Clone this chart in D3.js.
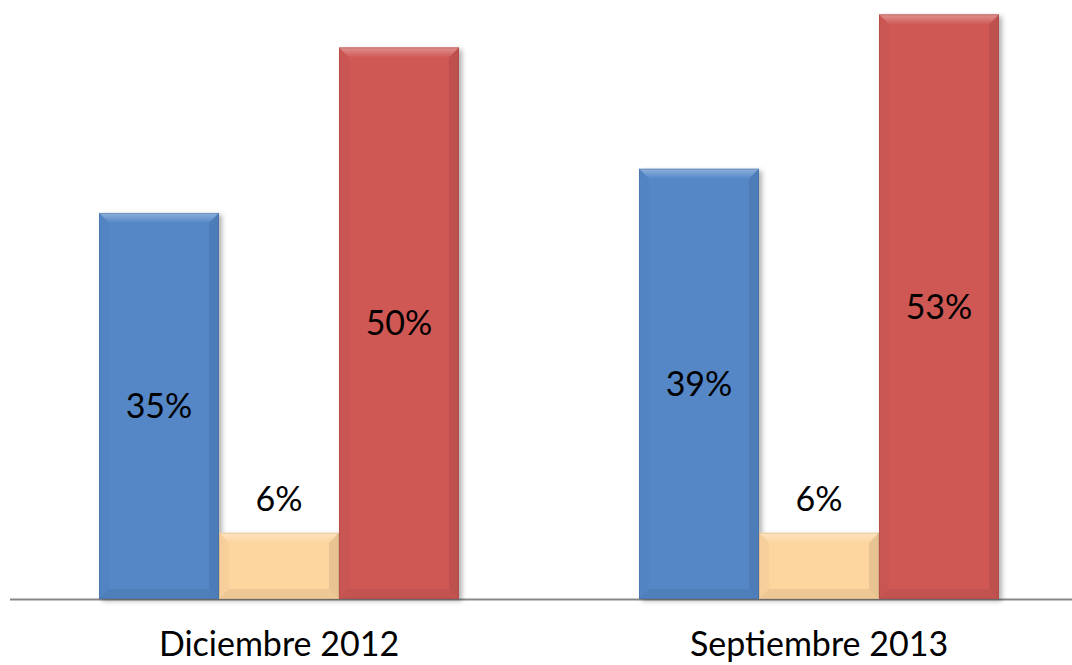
<!DOCTYPE html>
<html>
<head>
<meta charset="utf-8">
<script src="https://cdn.jsdelivr.net/npm/d3@7"></script>
<style>
  body { margin: 0; background: #fff; }
  svg { display: block; }
</style>
</head>
<body>
<script>
// data
var categories = ["Diciembre 2012", "Septiembre 2013"];
var series = ["s1", "s2", "s3"];
var serie1 = [35, 39];
var serie2 = [6, 6];
var serie3 = [50, 53];
var colors = ["#5487C7", "#FDD59F", "#CF5955"];

var values = [serie1, serie2, serie3];

var width = 1072, height = 665;
var base = 599;

var svg = d3.select("body").append("svg")
  .attr("width", width)
  .attr("height", height);

var defs = svg.append("defs");
var shadow = defs.append("filter").attr("id", "shadow")
  .attr("x", "-10%").attr("y", "-10%").attr("width", "130%").attr("height", "130%");
shadow.append("feDropShadow")
  .attr("dx", 3).attr("dy", 2).attr("stdDeviation", 2.5)
  .attr("flood-color", "#000").attr("flood-opacity", 0.3);

// scales
var x0 = d3.scaleBand().domain(categories).range([9, 1089])
  .paddingInner(1 / 3).paddingOuter(1 / 6);
var x1 = d3.scaleBand().domain(series).range([0, x0.bandwidth()]);
var y = d3.scaleLinear().domain([0, 55]).range([base, base - 55 * 11.03]);

// axis line
svg.append("line")
  .attr("x1", 10).attr("x2", width)
  .attr("y1", base + 0.5).attr("y2", base + 0.5)
  .attr("stroke", "#878787").attr("stroke-width", 2);

var bars = [];
categories.forEach(function (c, i) {
  series.forEach(function (s, j) {
    bars.push({ cat: c, s: s, j: j, v: values[j][i] });
  });
});

var bev = 10;
var g = svg.selectAll("g.bar").data(bars).enter().append("g")
  .attr("class", "bar")
  .attr("transform", function (d) { return "translate(" + (x0(d.cat) + x1(d.s)) + ",0)"; });

g.each(function (d, k) {
  var el = d3.select(this);
  var w = x1.bandwidth();
  var top = y(d.v), h = base - top;
  var col = d3.color(colors[d.j]);
  var light = d3.interpolateRgb(col, "#fff")(0.35);

  // top bevel gradient
  var gid = "topg" + k;
  var gr = defs.append("linearGradient").attr("id", gid)
    .attr("x1", 0).attr("y1", 0).attr("x2", 0).attr("y2", 1);
  gr.append("stop").attr("offset", "0%").attr("stop-color", light);
  gr.append("stop").attr("offset", "100%").attr("stop-color", col);

  el.append("rect")
    .attr("x", 0).attr("y", top).attr("width", w).attr("height", h)
    .attr("fill", col).attr("filter", "url(#shadow)");
  var faces = [
    { p: [[0, top], [w, top], [w - bev, top + bev], [bev, top + bev]], c: "url(#" + gid + ")", o: 1 },
    { p: [[0, top], [bev, top + bev], [bev, base - bev], [0, base]], c: col.darker(0.12), o: 0.6 },
    { p: [[w, top], [w, base], [w - bev, base - bev], [w - bev, top + bev]], c: col.darker(0.4), o: 0.6 },
    { p: [[0, base], [bev, base - bev], [w - bev, base - bev], [w, base]], c: col.darker(0.3), o: 0.6 }
  ];
  faces.forEach(function (f) {
    el.append("path")
      .attr("d", "M" + f.p.join("L") + "Z")
      .attr("fill", f.c).attr("opacity", f.o);
  });
  el.append("rect")
    .attr("x", 0.5).attr("y", top + 0.5).attr("width", w - 1).attr("height", h - 1)
    .attr("fill", "none").attr("stroke", col.darker(0.7)).attr("stroke-opacity", 0.4);
});

// value labels
g.append("text")
  .attr("x", x1.bandwidth() / 2)
  .attr("y", function (d) {
    return d.v < 10 ? y(d.v) - 22 : (y(d.v) + base) / 2 + 12;
  })
  .attr("text-anchor", "middle")
  .style("font-family", "Lato, 'Open Sans', sans-serif")
  .style("font-size", "34px")
  .attr("fill", "#000")
  .text(function (d) { return d.v + "%"; });

// category labels
svg.selectAll("text.cat").data(categories).enter().append("text")
  .attr("class", "cat")
  .attr("x", function (d) { return x0(d) + x0.bandwidth() / 2; })
  .attr("y", 656)
  .attr("text-anchor", "middle")
  .style("font-family", "Lato, 'Open Sans', sans-serif")
  .style("font-size", "34px")
  .attr("fill", "#000")
  .text(function (d) { return d; });
</script>
</body>
</html>
